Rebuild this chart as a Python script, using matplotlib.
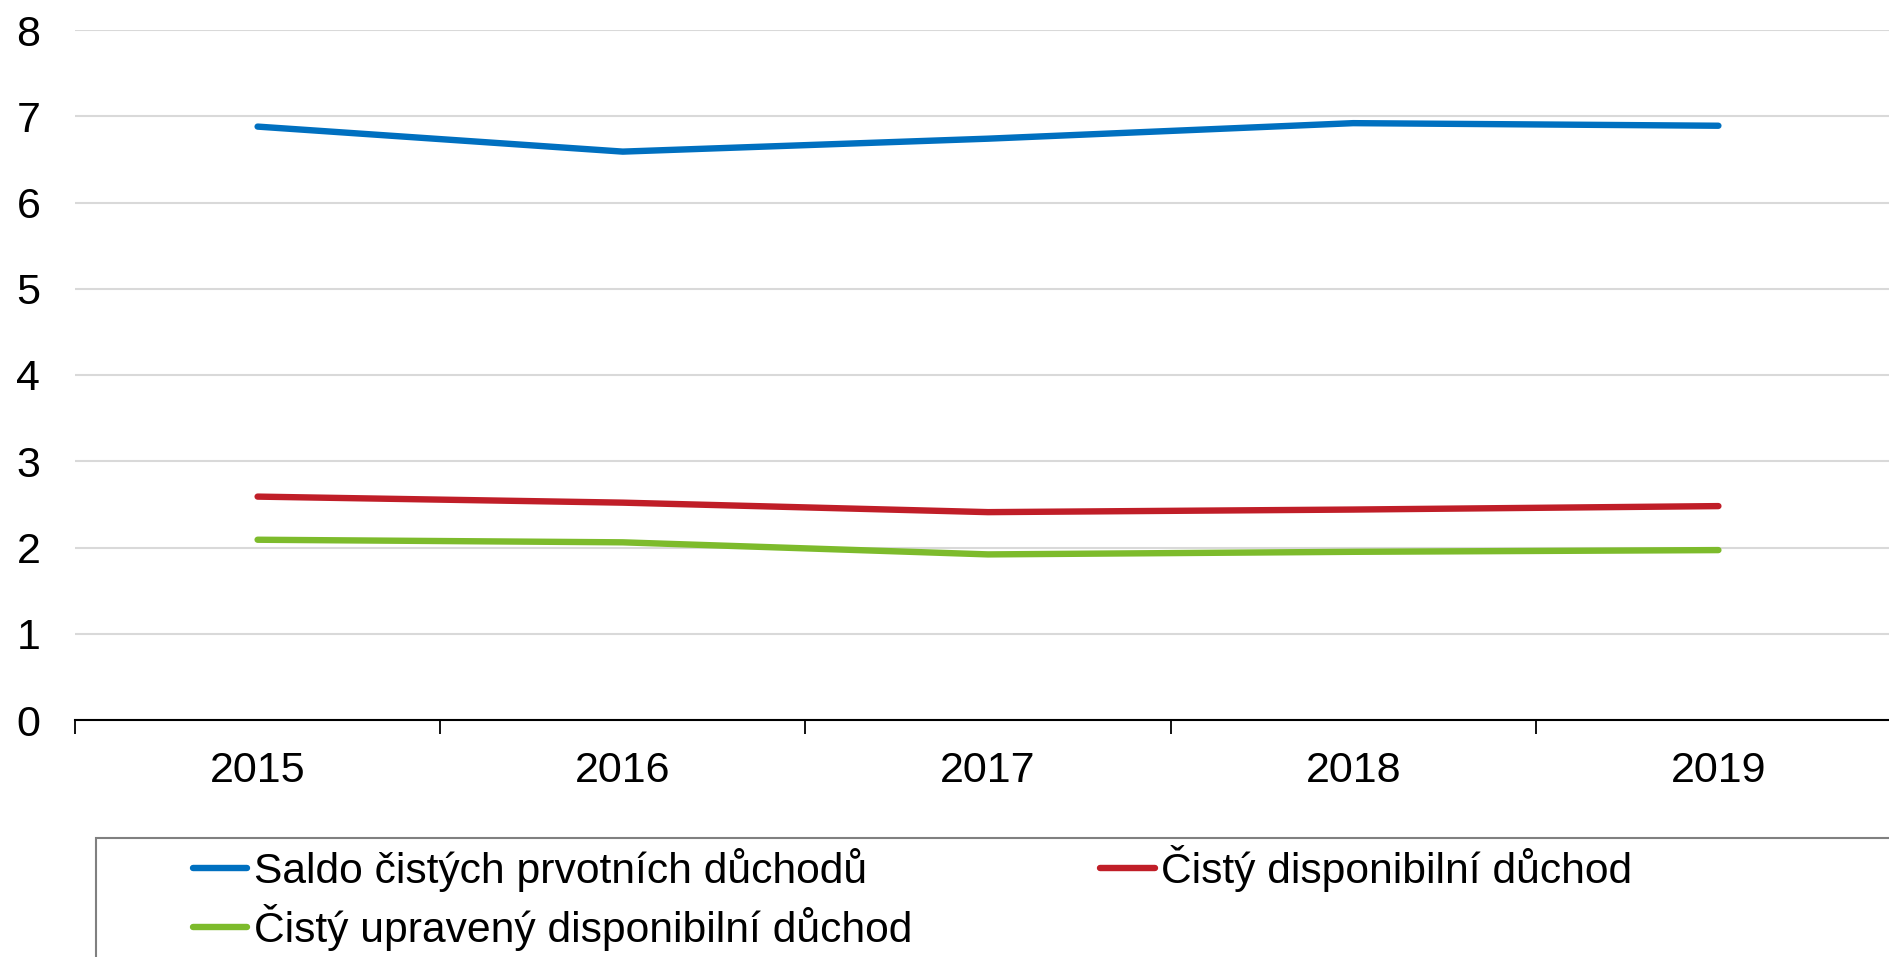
import matplotlib.pyplot as plt
from matplotlib.patches import Rectangle
import numpy as np

plt.rcParams['font.family'] = ['Liberation Sans', 'DejaVu Sans']

years = ['2015', '2016', '2017', '2018', '2019']
saldo = [6.88, 6.59, 6.74, 6.92, 6.89]
cisty_disp = [2.59, 2.52, 2.41, 2.44, 2.48]
cisty_upr = [2.09, 2.06, 1.92, 1.95, 1.97]

labels = ['Saldo čistých prvotních důchodů',
          'Čistý disponibilní důchod',
          'Čistý upravený disponibilní důchod']
colors = ['#0070C0', '#C01E28', '#7DBB2C']

W, H = 1890, 957
fig = plt.figure(figsize=(W / 100, H / 100), dpi=100)
# axes in pixel coords: left 75, right 1901, top 30, bottom 720
ax = fig.add_axes([75 / W, 1 - 720 / H, (1901 - 75) / W, (720 - 30) / H])

x = np.arange(len(years))
lines = []
for vals, c, lab in zip([saldo, cisty_disp, cisty_upr], colors, labels):
    ln, = ax.plot(x, vals, color=c, lw=4.6, solid_capstyle='round', label=lab, zorder=3)
    lines.append(ln)

ax.set_xlim(-0.5, len(years) - 0.5)
ax.set_ylim(0, 8)
ax.set_yticks(range(0, 9))
ax.grid(axis='y', color='#d9d9d9', lw=1.5)
ax.set_axisbelow(True)

ax.set_xticks(x)
ax.set_xticklabels(years, fontsize=31)
ax.set_xticks(np.arange(-0.5, len(years)), minor=True)
ax.tick_params(axis='x', which='major', length=0, pad=22)
ax.tick_params(axis='x', which='minor', length=10, width=1.3, direction='out')
ax.tick_params(axis='y', length=0, labelsize=31, pad=25)

for s in ['top', 'right', 'left']:
    ax.spines[s].set_visible(False)
ax.spines['bottom'].set_linewidth(1.5)

# legend frame, open to the right and bottom like the source
fig.patches.append(Rectangle((96 / W, -0.1), 1.2, (1 - 838 / H) + 0.1,
                             transform=fig.transFigure, fill=False,
                             edgecolor='#808080', lw=1.5))

fig.legend([lines[0], lines[2], lines[1]], [labels[0], labels[2], labels[1]],
           ncol=2, loc='upper left', bbox_to_anchor=(193 / W, 1 - 845 / H),
           frameon=False, fontsize=30.7, borderpad=0, borderaxespad=0,
           handlelength=1.27, handletextpad=0.15, columnspacing=4.42,
           labelspacing=0.28)

fig.savefig('out.png', dpi=100)
